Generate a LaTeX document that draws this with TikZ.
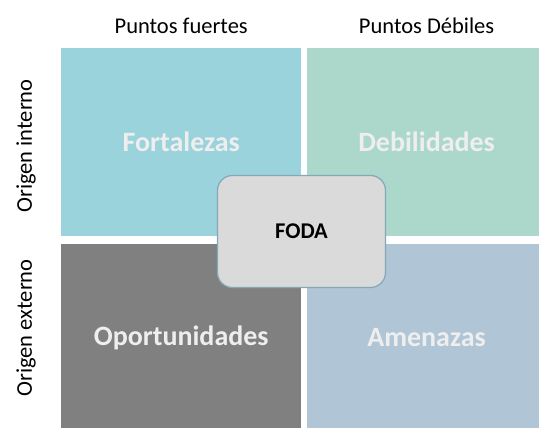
\documentclass[tikz,border=0pt]{standalone}
\usepackage{fontspec}
\setmainfont{Carlito}
\usepackage{tikz}
\usetikzlibrary{positioning}
\definecolor{fortcol}{HTML}{9BD3DD}
\definecolor{debcol}{HTML}{ACD8CB}
\definecolor{oporcol}{HTML}{808080}
\definecolor{amencol}{HTML}{B0C5D6}
\definecolor{quadtext}{HTML}{EEEEEE}
\definecolor{fodafill}{HTML}{DADADA}
\definecolor{fodaline}{HTML}{84A8B6}
\tikzset{
  quad/.style={minimum width=240pt, minimum height=188pt, inner sep=0pt,
    text=quadtext, font=\fontsize{28}{32}\selectfont\bfseries},
  axislabel/.style={inner sep=0pt, font=\fontsize{22.5}{26}\selectfont},
}

\begin{document}
\begin{tikzpicture}[x=1pt, y=-1pt]
  \clip (0,0) rectangle (539,428);
  \fill[white] (0,0) rectangle (539,428);
  \node[quad, fill=fortcol, anchor=north west] (fort) at (61,48) {Fortalezas};
  \node[quad, fill=debcol, right=5pt of fort] (deb) {Debilidades};
  \node[quad, fill=oporcol, below=7pt of fort] (opor) {Oportunidades};
  \node[quad, fill=amencol, below=7pt of deb] (amen) {Amenazas};
  \node[axislabel, above=14pt of fort] (fuertes) {Puntos fuertes};
  \node[axislabel, above=14pt of deb] (debiles) {Puntos Débiles};
  \node[axislabel, rotate=90] (interno) at (26,146) {Origen interno};
  \node[axislabel, rotate=90] (externo) at (26,328) {Origen externo};
  \node[draw=fodaline, line width=1.2pt, fill=fodafill, rounded corners=15pt,
    minimum width=168pt, minimum height=112pt, font=\fontsize{22.5}{26}\selectfont\bfseries]
    (foda) at (301.5,231.5) {FODA}; %centre box
\end{tikzpicture}
\end{document}
